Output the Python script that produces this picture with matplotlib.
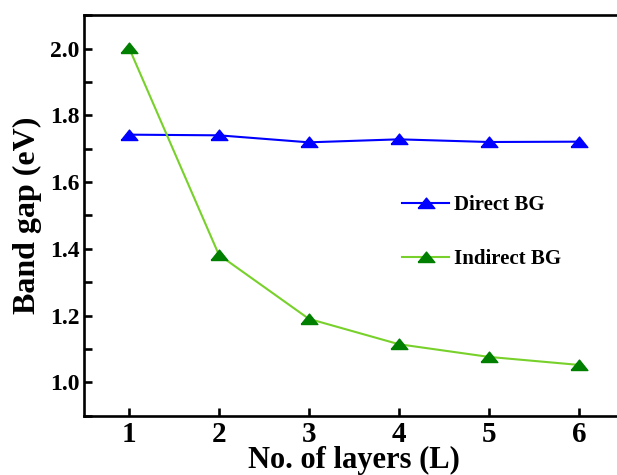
import matplotlib

matplotlib.use("Agg")
import matplotlib.pyplot as plt
from matplotlib.ticker import MultipleLocator

# Band gap vs number of layers
layers = [1, 2, 3, 4, 5, 6]
direct_bg = [1.742, 1.740, 1.719, 1.728, 1.720, 1.721]
indirect_bg = [2.003, 1.382, 1.190, 1.114, 1.076, 1.052]

_BLUE = "#0000ff"
_GREEN_LINE = "#77d12a"
_GREEN_MARK = "#007f00"

# squat triangle, wider than tall like the original markers
_TRI = [(-1.0, -0.6), (1.0, -0.6), (0.0, 0.65), (-1.0, -0.6)]

plt.rcParams.update({
    "font.family": "Liberation Serif",
    "font.weight": "bold",
    "axes.linewidth": 1.9,
})

fig = plt.figure(figsize=(6.17, 4.75), dpi=100)
ax = fig.add_axes([0.136, 0.125, 0.875, 0.843])

ax.plot(layers, direct_bg, "-", color=_BLUE, linewidth=1.5, marker=_TRI,
        markersize=12, markeredgecolor=_BLUE, label="Direct BG")
ax.plot(layers, indirect_bg, "-", color=_GREEN_LINE, linewidth=1.5)
ax.plot(layers, indirect_bg, linestyle="none", marker=_TRI, color=_GREEN_MARK,
        markersize=12, markeredgecolor=_GREEN_MARK)
# proxy so the legend shows light line + dark marker
ax.plot([], [], "-", color=_GREEN_LINE, marker=_TRI, markerfacecolor=_GREEN_MARK,
        markeredgecolor=_GREEN_MARK, linewidth=1.5, markersize=12,
        label="Indirect BG")

ax.set_xlim(0.5, 6.5)
ax.set_ylim(0.9, 2.1)
ax.set_xticks(layers)
ax.yaxis.set_major_locator(MultipleLocator(0.2))
ax.yaxis.set_minor_locator(MultipleLocator(0.1))
ax.yaxis.set_major_formatter(plt.FuncFormatter(lambda v, _: "{:.1f}".format(v)))
ax.tick_params(axis="both", which="both", direction="in", width=1.9, length=6)
ax.tick_params(axis="x", labelsize=21, pad=4)
ax.tick_params(axis="y", labelsize=17, pad=3)
ax.spines["right"].set_visible(False)

ax.set_xlabel("No. of layers (L)", fontsize=22, fontweight="bold", labelpad=-1.5)
ax.set_ylabel("Band gap (eV)", fontsize=23, fontweight="bold", labelpad=6)

ax.legend(loc="center left", bbox_to_anchor=(0.555, 0.458), frameon=False,
          handlelength=2.26, handletextpad=0.24, labelspacing=1.62,
          prop={"weight": "bold", "size": 15})

fig.savefig("out.png", dpi=100)
